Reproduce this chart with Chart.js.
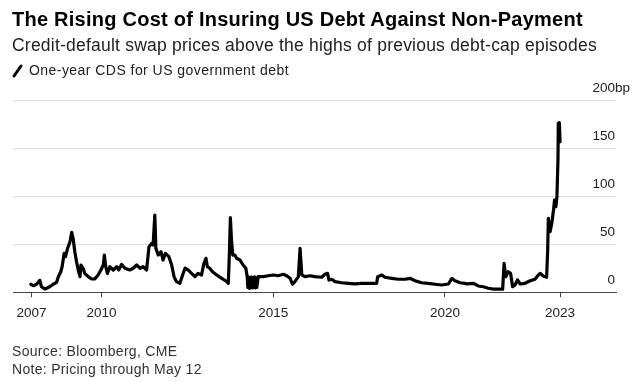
<!DOCTYPE html>
<html>
<head>
<meta charset="utf-8">
<script src="https://cdn.jsdelivr.net/npm/chart.js@4"></script>
<style>
  html, body { margin: 0; padding: 0; background: #fff; }
  #wrap { position: relative; width: 641px; height: 382px; overflow: hidden; font-family: "Liberation Sans", Arial, sans-serif; color: #000; }
  #c { position: absolute; left: 0; top: 0; }
  .t { position: absolute; white-space: nowrap; line-height: 1; }
  #title { left: 12px; top: 9px; font-size: 20px; font-weight: bold; letter-spacing: 0.25px; }
  #sub { left: 12px; top: 37px; font-size: 17.5px; color: #222; letter-spacing: 0.22px; }
  #leg { left: 29px; top: 63px; font-size: 14px; color: #222; letter-spacing: 0.45px; }
  #legicon { position: absolute; left: 12px; top: 63px; }
  #src { left: 12px; top: 344px; font-size: 14px; color: #333; letter-spacing: 0.3px; }
  #note { left: 12px; top: 362px; font-size: 14px; color: #333; letter-spacing: 0.3px; }
</style>
</head>
<body>
<div id="wrap">
  <canvas id="c" width="641" height="382"></canvas>
  <div class="t" id="title">The Rising Cost of Insuring US Debt Against Non-Payment</div>
  <div class="t" id="sub">Credit-default swap prices above the highs of previous debt-cap episodes</div>
  <svg id="legicon" width="12" height="16"><line x1="2" y1="13" x2="9" y2="3" stroke="#000" stroke-width="3" stroke-linecap="round"/></svg>
  <div class="t" id="leg">One-year CDS for US government debt</div>
  <div class="t" id="src">Source: Bloomberg, CME</div>
  <div class="t" id="note">Note: Pricing through May 12</div>
</div>
<script>
// ---- Data (time in fractional years, value in basis points) ----
const years = [
  2007.94,2008.01,2008.11,2008.20,2008.25,2008.35,2008.49,2008.59,2008.69,2008.74,
  2008.81,2008.85,2008.91,2008.95,2009.01,2009.08,2009.13,2009.17,2009.22,2009.27,
  2009.32,2009.37,2009.40,2009.46,2009.51,2009.61,2009.71,2009.80,2009.90,2009.98,
  2010.05,2010.08,2010.12,2010.17,2010.24,2010.34,2010.44,2010.50,2010.58,2010.68,
  2010.82,2010.92,2011.02,2011.12,2011.21,2011.31,2011.38,2011.46,2011.50,2011.55,
  2011.58,2011.65,2011.73,2011.79,2011.86,2011.96,2012.04,2012.11,2012.18,2012.28,
  2012.36,2012.43,2012.52,2012.62,2012.72,2012.81,2012.91,2012.98,2013.04,2013.08,
  2013.15,2013.23,2013.35,2013.50,2013.62,2013.69,2013.72,2013.75,2013.78,2013.82,
  2013.88,2013.93,2014.03,2014.12,2014.20,2014.24,2014.26,2014.29,2014.31,2014.33,
  2014.35,2014.37,2014.39,2014.42,2014.44,2014.46,2014.48,2014.50,2014.52,2014.56,
  2014.71,2014.85,2015.00,2015.14,2015.29,2015.39,2015.49,2015.56,2015.63,2015.73,
  2015.78,2015.83,2015.92,2016.07,2016.21,2016.41,2016.50,2016.58,2016.62,2016.70,
  2016.80,2016.99,2017.18,2017.38,2017.57,2017.77,2018.01,2018.04,2018.16,2018.25,
  2018.45,2018.64,2018.84,2018.98,2019.13,2019.32,2019.51,2019.71,2019.90,2020.10,
  2020.20,2020.29,2020.44,2020.58,2020.63,2020.83,2020.97,2021.12,2021.26,2021.41,
  2021.60,2021.68,2021.72,2021.77,2021.84,2021.91,2021.97,2022.04,2022.11,2022.19,
  2022.33,2022.48,2022.62,2022.72,2022.77,2022.86,2022.96,2022.99,2023.01,2023.06,
  2023.11,2023.16,2023.19,2023.23,2023.26,2023.29,2023.30,2023.33,2023.35
];
const cds = [
  8.4,6.9,8.4,12.5,5.8,3.4,5.8,8.4,10.4,16.3,
  21.5,26.7,40.7,37.2,45.9,52.8,62.6,56.4,42.4,31.9,
  23.3,16.3,28.5,25.1,19.8,16.3,13.9,13.9,18.1,23.3,
  28.5,38.9,26.7,19.8,26.7,23.3,26.7,23.3,29.2,25.1,
  23.3,25.1,28.5,25.1,26.7,23.3,47.6,51.1,49.4,80.7,
  45.9,38.9,42.4,33.7,40.7,37.2,28.5,16.3,11.1,9.4,
  18.1,25.1,23.3,19.8,16.3,19.8,18.1,30.3,35.5,26.7,
  25.1,21.5,18.1,14.6,11.8,9.4,38.9,77.9,56.4,38.9,
  38.9,35.5,33.7,28.5,25.1,16.3,5.0,16.0,4.0,15.0,
  5.0,16.0,4.5,15.5,5.0,16.0,4.5,15.0,5.0,16.3,
  16.3,17.3,18.1,17.3,18.8,17.3,14.6,8.4,11.1,16.3,
  45.9,18.1,16.3,17.3,16.3,15.7,18.8,19.8,12.8,13.6,
  11.1,10.0,9.4,8.7,9.4,9.4,9.4,16.3,18.1,15.7,
  14.6,13.6,13.6,14.6,12.1,10.0,9.4,8.4,7.6,8.7,
  14.6,12.1,10.0,9.4,8.7,9.4,6.6,5.8,4.2,3.4,
  3.4,3.4,30.3,16.3,21.5,19.8,5.8,7.6,12.8,8.7,
  9.4,12.1,13.6,18.1,19.8,17.0,15.7,44.2,77.2,63.3,
  72.0,85.9,96.3,89.4,99.8,138.1,176.4,177.0,157.2
];
// ---- Axis ticks ----
const xTickPositions = [2007.96, 2010, 2015, 2020, 2023.35];
const xTickLabels = ['2007', '2010', '2015', '2020', '2023'];
const yTickValues = [0, 50, 100, 150, 200];
const yTickLabels = ['0', '50', '100', '150', '200'];
const yUnit = 'bp';

const points = years.map((x, i) => ({ x: x, y: cds[i] }));

const yLabelPlugin = {
  id: 'yLabels',
  afterDraw(chart) {
    const ctx = chart.ctx;
    const y = chart.scales.y;
    const right = chart.chartArea.right - 1;
    ctx.save();
    ctx.font = '13.5px "Liberation Sans", Arial, sans-serif';
    ctx.fillStyle = '#222';
    ctx.textBaseline = 'middle';
    yTickValues.forEach((v, i) => {
      const py = y.getPixelForValue(v) - 12;
      ctx.textAlign = 'right';
      ctx.fillText(yTickLabels[i], right, py);
      if (i === yTickValues.length - 1) {
        ctx.textAlign = 'left';
        ctx.fillText(yUnit, right, py);
      }
    });
    ctx.restore();
  }
};

new Chart(document.getElementById('c'), {
  type: 'line',
  data: {
    datasets: [{
      data: points,
      borderColor: '#000',
      borderWidth: 3.2,
      pointRadius: 0,
      tension: 0,
      fill: false,
      borderJoinStyle: 'round',
      borderCapStyle: 'round'
    }]
  },
  options: {
    responsive: false,
    animation: false,
    devicePixelRatio: 1,
    layout: { padding: { left: 13, right: 25, top: 100.7, bottom: 64.7 } },
    plugins: { legend: { display: false }, tooltip: { enabled: false }, title: { display: false } },
    scales: {
      x: {
        type: 'linear',
        min: 2007.42,
        max: 2024.98,
        afterBuildTicks(scale) { scale.ticks = xTickPositions.map(v => ({ value: v })); },
        afterFit(scale) { scale.height = 25; },
        grid: { drawOnChartArea: false, drawTicks: true, tickLength: 5, color: '#444', lineWidth: 1 },
        border: { display: true, color: '#444', width: 1 },
        ticks: {
          autoSkip: false,
          maxRotation: 0,
          padding: 8,
          color: '#222',
          font: { family: '"Liberation Sans", Arial, sans-serif', size: 13.5 },
          callback(value, index) { return xTickLabels[index]; }
        }
      },
      y: {
        min: 0,
        max: 200,
        afterBuildTicks(scale) { scale.ticks = yTickValues.map(v => ({ value: v })); },
        afterFit(scale) { scale.width = 0; },
        border: { display: false },
        grid: {
          drawTicks: false,
          color: ctx => (ctx.tick && ctx.tick.value === 0) ? 'rgba(0,0,0,0)' : '#dedede',
          lineWidth: 1
        },
        ticks: { display: false }
      }
    }
  },
  plugins: [yLabelPlugin]
});
</script>
</body>
</html>
